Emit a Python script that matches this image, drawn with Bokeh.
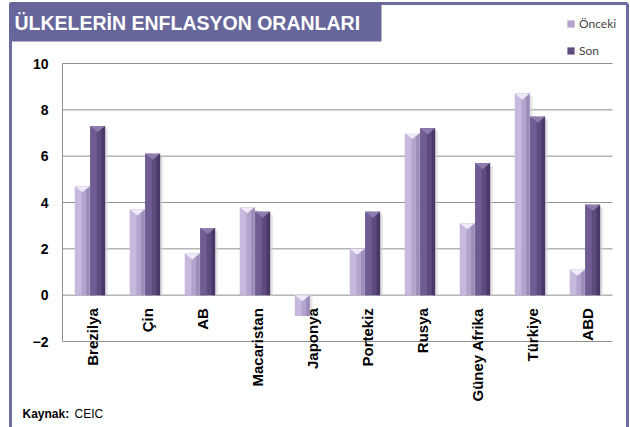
import math
from bokeh.plotting import figure
from bokeh.models import (Range1d, FixedTicker, ColumnDataSource, LabelSet,
                          Legend, LegendItem, LinearAxis)
from bokeh.core.properties import value
from bokeh.embed import file_html
from bokeh.resources import INLINE

categories = ["Brezilya", "Çin", "AB", "Macaristan", "Japonya", "Portekiz",
              "Rusya", "Güney Afrika", "Türkiye", "ABD"]
onceki = [4.7, 3.7, 1.8, 3.8, -0.9, 2.0, 7.0, 3.1, 8.7, 1.1]
son = [7.3, 6.1, 2.9, 3.6, float("nan"), 3.6, 7.2, 5.7, 7.7, 3.9]
y_ticks = [-2, 0, 2, 4, 6, 8, 10]
title_text = "ÜLKELERİN ENFLASYON ORANLARI"
series_names = ["Önceki", "Son"]
source_label = "Kaynak:"
source_name = "CEIC"

W, H = 630, 427
# pixel layout of the plotting area (left/right/top/bottom in canvas pixels)
PL, PR, PT, PB = 62, 612, 63, 341
YMIN, YMAX = y_ticks[0], y_ticks[-1]
NCAT = len(categories)
sx_unit = (PR - PL) / NCAT
sy_unit = (PB - PT) / (YMAX - YMIN)

def px2x(px):
    return (px - PL) / sx_unit

def py2y(py):
    return YMAX - (py - PT) / sy_unit

p = figure(width=W, height=H, output_backend="svg", toolbar_location=None,
           x_range=Range1d(px2x(0), px2x(W)), y_range=Range1d(py2y(H), py2y(0)),
           x_axis_location=None, y_axis_location=None, min_border=0)
p.title.visible = False
p.outline_line_color = None
p.background_fill_color = "white"
p.border_fill_color = "white"
p.grid.visible = False

# gridlines within the plot area
p.segment(x0=[0] * len(y_ticks), x1=[NCAT] * len(y_ticks), y0=y_ticks, y1=y_ticks,
          line_color="#8f8f8f", line_width=1)

ya = LinearAxis(fixed_location=0, bounds=(YMIN, YMAX))
ya.ticker = FixedTicker(ticks=y_ticks)
ya.axis_line_color = "#8f8f8f"
ya.major_tick_out = 0
ya.major_tick_in = 0
ya.minor_tick_out = 0
ya.minor_tick_in = 0
ya.major_label_standoff = 14
ya.major_label_text_font = "Liberation Sans"
ya.major_label_text_font_style = "bold"
ya.major_label_text_font_size = "14px"
ya.major_label_text_color = "black"
p.add_layout(ya, "left")

bw = 0.27
off = 0.14
xc = [i + 0.5 for i in range(NCAT)]

def draw_series(vals, dx, base, light, dark, chev, shadow):
    xs = [x + dx for x in xc]
    src = ColumnDataSource(dict(
        x=xs, top=list(vals),
        xs_sh=[x + 0.05 for x in xs],
        top_sh=[(v - 0.12 if v > 0 else v) for v in vals],
        x_l=[x - bw * 0.28 for x in xs],
        x_r=[x + bw * 0.38 for x in xs]))
    p.vbar(x="xs_sh", top="top_sh", bottom=0, width=bw, source=src,
           fill_color=shadow, line_color=None, fill_alpha=0.6)
    r = p.vbar(x="x", top="top", bottom=0, width=bw, source=src,
               fill_color=base, line_color=None)
    p.vbar(x="x_l", top="top", bottom=0, width=bw * 0.44, source=src,
           fill_color=light, line_color=None)
    p.vbar(x="x_r", top="top", bottom=0, width=bw * 0.24, source=src,
           fill_color=dark, line_color=None)
    cxs, cys = [], []
    for x, v in zip(xs, vals):
        if math.isnan(v):
            continue
        t = max(v, 0.0)
        cxs.append([x - bw / 2, x + bw / 2, x])
        cys.append([t, t, t - 0.26])
    p.patches(cxs, cys, fill_color=chev, line_color=None)
    return r

r1 = draw_series(onceki, -off, "#b3a4ce", "#c6b9dd", "#9d8cbb", "#efeaf7", "#d4d4d4")
r2 = draw_series(son, off, "#5f4a80", "#705b93", "#4a3968", "#8e7cae", "#d4d4d4")

# category labels hanging from the zero line
lab_src = ColumnDataSource(dict(x=[x + 0.05 for x in xc], y=[0] * NCAT, text=categories))
p.add_layout(LabelSet(x="x", y="y", text="text", source=lab_src, angle=math.pi / 2,
                      y_offset=-13, text_align="right", text_baseline="middle",
                      text_font=value("Liberation Sans"), text_font_style=value("bold"),
                      text_font_size=value("15px"), text_color="black"))

# outer border
bx0, bx1, by0, by1 = px2x(10), px2x(627), py2y(3), py2y(H + 5)
p.segment(x0=[bx0, bx0, bx1], y0=[by1, by0, by0], x1=[bx0, bx1, bx1], y1=[by0, by0, by1],
          line_color="#6c6c9e", line_width=3)
# title box
p.quad(left=[px2x(9)], right=[px2x(381)], top=[py2y(2)], bottom=[py2y(41)],
       fill_color="#66669a", line_color=None)
p.text(x=[px2x(14)], y=[py2y(22)], text=[title_text], text_color="white",
       text_font=value("Liberation Sans"), text_font_style="bold",
       text_font_size="19.5px", text_baseline="middle", text_align="left")

# source note
p.text(x=[px2x(22)], y=[py2y(413)], text=[source_label], text_color="black",
       text_font=value("Liberation Sans"), text_font_style="bold",
       text_font_size="12px", text_baseline="middle", text_align="left")
p.text(x=[px2x(74)], y=[py2y(413)], text=[source_name], text_color="black",
       text_font=value("Liberation Sans"), text_font_size="12px",
       text_baseline="middle", text_align="left")

legend = Legend(items=[LegendItem(label=series_names[0], renderers=[r1]),
                       LegendItem(label=series_names[1], renderers=[r2])],
                location=(566, H - 58), padding=0, spacing=12, margin=0,
                glyph_width=9, glyph_height=9, label_height=14, label_standoff=4,
                label_text_font="Lato", label_text_font_size="12px",
                border_line_color=None, background_fill_alpha=0)
p.add_layout(legend)

open("out.html", "w").write(file_html(p, INLINE))
